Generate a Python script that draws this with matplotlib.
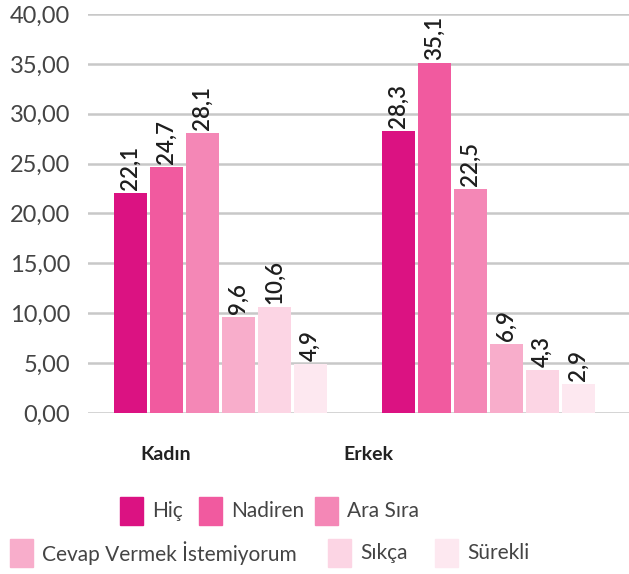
import matplotlib
matplotlib.use('Agg')
import matplotlib.pyplot as plt
import numpy as np
from matplotlib.patches import Rectangle

# Survey answers by gender (percent)
groups = ['Kadın', 'Erkek']
answers = ['Hiç', 'Nadiren', 'Ara Sıra', 'Cevap Vermek İstemiyorum', 'Sıkça', 'Sürekli']
kadin = [22.1, 24.7, 28.1, 9.6, 10.6, 4.9]
erkek = [28.3, 35.1, 22.5, 6.9, 4.3, 2.9]
colors = ['#DB1282', '#F15A9F', '#F487B6', '#F8ADCB', '#FCD5E4', '#FDE8F0']

W, H = 629, 574
fig = plt.figure(figsize=(W / 100, H / 100), dpi=100)
plt.rcParams['font.family'] = ['Lato', 'DejaVu Sans']

ax = fig.add_axes([88 / W, (H - 413) / H, 1 - 88 / W, 399 / H])

pitch = 36 / 268
width = 33 / 268
x = np.arange(len(groups))
offsets = (np.arange(len(answers)) - 2.5) * pitch

for i, (ans, col) in enumerate(zip(answers, colors)):
    vals = [kadin[i], erkek[i]]
    bars = ax.bar(x + offsets[i], vals, width, color=col, zorder=3)
    for b, v in zip(bars, vals):
        ax.annotate(f'{v:.1f}'.replace('.', ','),
                    (b.get_x() + b.get_width() / 2, v),
                    xytext=(0, 2), textcoords='offset points',
                    rotation=90, ha='center', va='bottom',
                    fontsize=16, fontweight='semibold', color='#1E1E1E')

ax.set_xlim(-0.493, 1.526)
ax.set_ylim(0, 40)
ax.set_yticks(np.arange(0, 41, 5))
ax.set_yticklabels([f'{t:.2f}'.replace('.', ',') for t in np.arange(0, 41, 5)],
                   fontsize=17, fontweight='normal', color='#444444')
ax.tick_params(axis='y', length=0, pad=13)
ax.set_xticks([])
for s in ax.spines.values():
    s.set_visible(False)
ax.grid(axis='y', color='#C8C8C8', linewidth=1.8, zorder=0)
ax.set_axisbelow(True)

# group names under the bars
group_px = [166, 368]
for name, px in zip(groups, group_px):
    fig.text(px / W, 1 - 455 / H, name, ha='center', va='center',
             fontsize=14, fontweight='bold', color='#222222')

# legend laid out in two rows
legend_px = [(120, 511), (199, 511), (315, 511), (10, 553), (328, 553), (435, 553)]
for ans, col, (px, py) in zip(answers, colors, legend_px):
    fig.patches.append(Rectangle((px / W, (H - py - 14) / H), 23 / W, 28 / H,
                                 transform=fig.transFigure, color=col))
    fig.text((px + 32) / W, 1 - py / H, ans, ha='left', va='center',
             fontsize=15, fontweight='normal', color='#444444')

fig.savefig('out.png', dpi=100)
